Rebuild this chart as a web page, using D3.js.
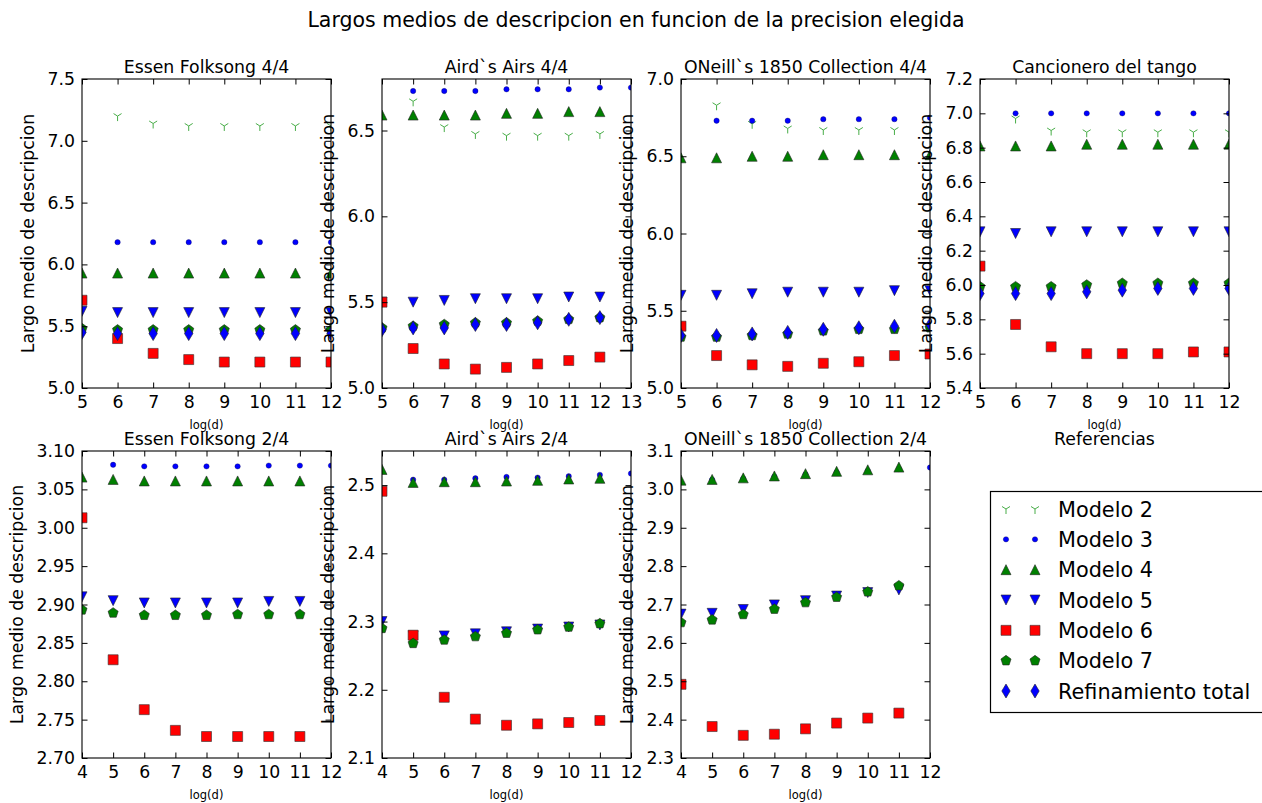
<!DOCTYPE html>
<html>
<head>
<meta charset="utf-8">
<script src="https://cdn.jsdelivr.net/npm/d3@7"></script>
<style>
  body { margin: 0; background: #fff; }
  svg { display: block; font-family: "DejaVu Sans", sans-serif; }
</style>
</head>
<body>
<svg id="chart"></svg>
<script>
// Largo medio de descripcion vs log(d), one panel per corpus.
// Series order inside each panel array:
// [Modelo 2, Modelo 3, Modelo 4, Modelo 5, Modelo 6, Modelo 7, Refinamiento total]
// Modelo 2 and 3 are sampled one step later than the others.

const seriesNames = ['Modelo 2', 'Modelo 3', 'Modelo 4', 'Modelo 5', 'Modelo 6', 'Modelo 7', 'Refinamiento total'];

const panelTitles = [
  'Essen Folksong 4/4', 'Aird`s Airs 4/4', 'ONeill`s 1850 Collection 4/4', 'Cancionero del tango',
  'Essen Folksong 2/4', 'Aird`s Airs 2/4', 'ONeill`s 1850 Collection 2/4'
];

// x values (log(d))
const xTop = [5, 6, 7, 8, 9, 10, 11, 12];
const xTopLate = [6, 7, 8, 9, 10, 11, 12, 13];
const xBottom = [4, 5, 6, 7, 8, 9, 10, 11];
const xBottomLate = [5, 6, 7, 8, 9, 10, 11, 12];

const essen44 = [
  [7.20, 7.14, 7.12, 7.12, 7.12, 7.12, 7.12, null],
  [6.18, 6.18, 6.18, 6.18, 6.18, 6.18, 6.18, null],
  [5.93, 5.93, 5.93, 5.93, 5.93, 5.93, 5.93, 5.93],
  [5.62, 5.61, 5.61, 5.61, 5.61, 5.61, 5.61, 5.61],
  [5.71, 5.40, 5.28, 5.23, 5.21, 5.21, 5.21, 5.21],
  [5.48, 5.47, 5.47, 5.47, 5.47, 5.47, 5.47, 5.47],
  [5.45, 5.44, 5.44, 5.44, 5.44, 5.44, 5.44, 5.44]
];
const aird44 = [
  [6.67, 6.52, 6.48, 6.47, 6.47, 6.47, 6.48, null],
  [6.73, 6.73, 6.73, 6.74, 6.74, 6.74, 6.75, 6.75],
  [6.59, 6.59, 6.59, 6.59, 6.60, 6.60, 6.61, 6.61],
  [5.50, 5.50, 5.51, 5.52, 5.52, 5.52, 5.53, 5.53],
  [5.50, 5.23, 5.14, 5.11, 5.12, 5.14, 5.16, 5.18],
  [5.35, 5.36, 5.37, 5.38, 5.38, 5.39, 5.40, 5.41],
  [5.34, 5.35, 5.35, 5.37, 5.37, 5.38, 5.40, 5.41]
];
const oneill44 = [
  [6.83, 6.71, 6.68, 6.67, 6.67, 6.67, 6.68, null],
  [6.73, 6.73, 6.73, 6.74, 6.74, 6.74, 6.75, null],
  [6.49, 6.49, 6.50, 6.50, 6.51, 6.51, 6.51, 6.51],
  [5.60, 5.60, 5.61, 5.62, 5.62, 5.62, 5.63, 5.63],
  [5.40, 5.21, 5.15, 5.14, 5.16, 5.17, 5.21, 5.22],
  [5.33, 5.33, 5.34, 5.35, 5.37, 5.38, 5.38, 5.39],
  [5.34, 5.34, 5.35, 5.36, 5.38, 5.39, 5.40, 5.41]
];
const tango = [
  [6.97, 6.90, 6.89, 6.89, 6.89, 6.89, 6.89, null],
  [7.00, 7.00, 7.00, 7.00, 7.00, 7.00, 7.00, null],
  [6.81, 6.81, 6.81, 6.82, 6.82, 6.82, 6.82, 6.82],
  [6.31, 6.30, 6.31, 6.31, 6.31, 6.31, 6.31, 6.31],
  [6.11, 5.77, 5.64, 5.60, 5.60, 5.60, 5.61, 5.61],
  [5.99, 5.99, 5.99, 6.00, 6.01, 6.01, 6.01, 6.01],
  [5.95, 5.95, 5.95, 5.96, 5.97, 5.98, 5.98, 5.98]
];
const essen24 = [
  [],
  [3.082, 3.080, 3.080, 3.080, 3.080, 3.081, 3.081, 3.081],
  [3.066, 3.063, 3.061, 3.061, 3.061, 3.061, 3.061, 3.061],
  [2.910, 2.905, 2.902, 2.902, 2.902, 2.902, 2.904, 2.904],
  [3.013, 2.828, 2.763, 2.736, 2.728, 2.728, 2.728, 2.728],
  [2.893, 2.889, 2.886, 2.886, 2.886, 2.887, 2.887, 2.887],
  []
];
const aird24 = [
  [],
  [2.508, 2.508, 2.510, 2.512, 2.511, 2.513, 2.515, 2.517],
  [2.523, 2.504, 2.505, 2.505, 2.506, 2.507, 2.509, 2.510],
  [2.300, 2.279, 2.279, 2.282, 2.285, 2.289, 2.292, 2.295],
  [2.491, 2.280, 2.189, 2.157, 2.148, 2.150, 2.152, 2.155],
  [2.290, 2.268, 2.273, 2.278, 2.283, 2.288, 2.292, 2.297],
  []
];
const oneill24 = [
  [],
  [3.025, 3.028, 3.033, 3.039, 3.044, 3.048, 3.053, 3.057],
  [3.024, 3.026, 3.030, 3.035, 3.041, 3.047, 3.051, 3.058],
  [2.675, 2.677, 2.687, 2.699, 2.710, 2.722, 2.731, 2.738],
  [2.492, 2.382, 2.359, 2.362, 2.376, 2.391, 2.404, 2.417],
  [2.653, 2.660, 2.674, 2.688, 2.705, 2.719, 2.733, 2.749],
  []
];

const panelData = [essen44, aird44, oneill44, tango, essen24, aird24, oneill24];

const xDomains = [[5, 12], [5, 13], [5, 12], [5, 12], [4, 12], [4, 12], [4, 12]];
const yDomains = [[5.0, 7.5], [5.0, 6.8], [5.0, 7.0], [5.4, 7.2], [2.70, 3.10], [2.1, 2.55], [2.3, 3.1]];
const yTicks = [
  [5.0, 5.5, 6.0, 6.5, 7.0, 7.5],
  [5.0, 5.5, 6.0, 6.5],
  [5.0, 5.5, 6.0, 6.5, 7.0],
  [5.4, 5.6, 5.8, 6.0, 6.2, 6.4, 6.6, 6.8, 7.0, 7.2],
  [2.70, 2.75, 2.80, 2.85, 2.90, 2.95, 3.00, 3.05, 3.10],
  [2.1, 2.2, 2.3, 2.4, 2.5],
  [2.3, 2.4, 2.5, 2.6, 2.7, 2.8, 2.9, 3.0, 3.1]
];
const yTickFormats = ['.1f', '.1f', '.1f', '.1f', '.2f', '.1f', '.1f'];

// ---- layout ----
const width = 1262;
const height = 803;
const colLeft = [82, 382, 681, 980];
const axWidth = 249;
const rowTop = [79, 451];
const rowBottom = [388, 758];
const tickLen = 5.5;
const fontSize = 17.3;

// marker shapes, size about 10px like matplotlib ms=6 at this scale
const pentagon = d3.range(5).map((k) => {
  const a = (-90 + k * 72) * Math.PI / 180;
  return [5.3 * Math.cos(a), 5.3 * Math.sin(a)];
});
const seriesStyles = [
  { d: 'M0,0L0,5M0,0L4,-2.5M0,0L-4,-2.5', fill: 'none', stroke: '#48ad48', sw: 1 },
  { d: d3.symbol(d3.symbolCircle, Math.PI * 2.7 * 2.7)(), fill: '#0000ff', stroke: '#000033', sw: 0.3 },
  { d: 'M0,-5L5,5L-5,5Z', fill: '#008000', stroke: '#222', sw: 0.6 },
  { d: 'M0,5L5,-5L-5,-5Z', fill: '#0000ff', stroke: '#222', sw: 0.6 },
  { d: 'M-5,-5H5V5H-5Z', fill: '#ff0000', stroke: '#333', sw: 0.6 },
  { d: 'M' + pentagon.join('L') + 'Z', fill: '#008000', stroke: '#222', sw: 0.6 },
  { d: 'M0,-7L4.2,0L0,7L-4.2,0Z', fill: '#0000ff', stroke: '#222', sw: 0.6 }
];

const svg = d3.select('#chart').attr('width', width).attr('height', height);
svg.append('rect').attr('width', width).attr('height', height).attr('fill', '#fff');

svg.append('text')
  .attr('x', 636).attr('y', 27)
  .attr('text-anchor', 'middle')
  .attr('font-size', 20.5)
  .text('Largos medios de descripcion en funcion de la precision elegida');

panelData.forEach((series, p) => {
  const row = p < 4 ? 0 : 1;
  const col = p % 4;
  const left = colLeft[col];
  const right = left + axWidth;
  const top = rowTop[row];
  const bottom = rowBottom[row];

  const x = d3.scaleLinear().domain(xDomains[p]).range([left, right]);
  const y = d3.scaleLinear().domain(yDomains[p]).range([bottom, top]);
  const g = svg.append('g');

  svg.append('clipPath').attr('id', 'clip' + p)
    .append('rect').attr('x', left).attr('y', top).attr('width', right - left).attr('height', bottom - top);

  const marks = g.append('g').attr('clip-path', `url(#clip${p})`);
  series.forEach((vals, s) => {
    const xs = s < 2 ? (row === 0 ? xTopLate : xBottomLate) : (row === 0 ? xTop : xBottom);
    const pts = vals.map((v, i) => ({ x: xs[i], v })).filter((d) => d.v != null);
    const st = seriesStyles[s];
    marks.append('g').selectAll('path')
      .data(pts)
      .join('path')
      .attr('transform', (d) => `translate(${x(d.x)},${y(d.v)})`)
      .attr('d', st.d)
      .attr('fill', st.fill)
      .attr('stroke', st.stroke)
      .attr('stroke-width', st.sw);
  });

  // axes: inward ticks on all four sides
  const xt = d3.range(xDomains[p][0], xDomains[p][1] + 1);
  const styleAxis = (a) => {
    a.select('.domain').remove();
    a.selectAll('line').attr('stroke', '#000');
    a.selectAll('text').attr('font-size', fontSize).attr('fill', '#000')
      .attr('font-family', '"DejaVu Sans", sans-serif');
  };
  g.append('g').attr('transform', `translate(0,${bottom})`)
    .call(d3.axisBottom(x).tickValues(xt).tickFormat(d3.format('d')).tickSize(-tickLen).tickPadding(8))
    .call(styleAxis);
  g.append('g').attr('transform', `translate(0,${top})`)
    .call(d3.axisTop(x).tickValues(xt).tickFormat('').tickSize(-tickLen))
    .call(styleAxis);
  const yl = g.append('g').attr('transform', `translate(${left},0)`)
    .call(d3.axisLeft(y).tickValues(yTicks[p]).tickFormat(d3.format(yTickFormats[p])).tickSize(-tickLen).tickPadding(7))
    .call(styleAxis);
  g.append('g').attr('transform', `translate(${right},0)`)
    .call(d3.axisRight(y).tickValues(yTicks[p]).tickFormat('').tickSize(-tickLen))
    .call(styleAxis);

  g.append('rect')
    .attr('x', left).attr('y', top)
    .attr('width', right - left).attr('height', bottom - top)
    .attr('fill', 'none').attr('stroke', '#000').attr('stroke-width', 1.1);

  let maxW = 0;
  yl.selectAll('text').each(function () { maxW = Math.max(maxW, this.getComputedTextLength()); });
  const labelX = left - 7 - maxW - 20;
  g.append('text')
    .attr('transform', `translate(${labelX + 6},${(top + bottom) / 2}) rotate(-90)`)
    .attr('text-anchor', 'middle')
    .attr('font-size', fontSize)
    .text('Largo medio de descripcion');

  g.append('text')
    .attr('x', (left + right) / 2).attr('y', top - 6)
    .attr('text-anchor', 'middle')
    .attr('font-size', fontSize)
    .text(panelTitles[p]);

  g.append('text')
    .attr('x', (left + right) / 2).attr('y', bottom + 41)
    .attr('text-anchor', 'middle')
    .attr('font-size', 11.5)
    .text('log(d)');
});

// empty eighth panel only holds the legend
svg.append('text')
  .attr('x', colLeft[3] + axWidth / 2).attr('y', rowTop[1] - 6)
  .attr('text-anchor', 'middle')
  .attr('font-size', fontSize)
  .text('Referencias');

const legend = svg.append('g');
legend.append('rect')
  .attr('x', 990.5).attr('y', 491.5).attr('width', 275).attr('height', 221)
  .attr('fill', '#fff').attr('stroke', '#000').attr('stroke-width', 1.2);

const rowsY = d3.scalePoint().domain(seriesNames).range([509, 691]);
seriesNames.forEach((name, s) => {
  const st = seriesStyles[s];
  const cy = rowsY(name);
  [1006, 1035].forEach((cx) => {
    legend.append('path')
      .attr('transform', `translate(${cx},${cy})`)
      .attr('d', st.d)
      .attr('fill', st.fill)
      .attr('stroke', st.stroke)
      .attr('stroke-width', st.sw);
  });
  legend.append('text')
    .attr('x', 1058).attr('y', cy + 7.5)
    .attr('font-size', 20.8)
    .text(name);
});
</script>
</body>
</html>
